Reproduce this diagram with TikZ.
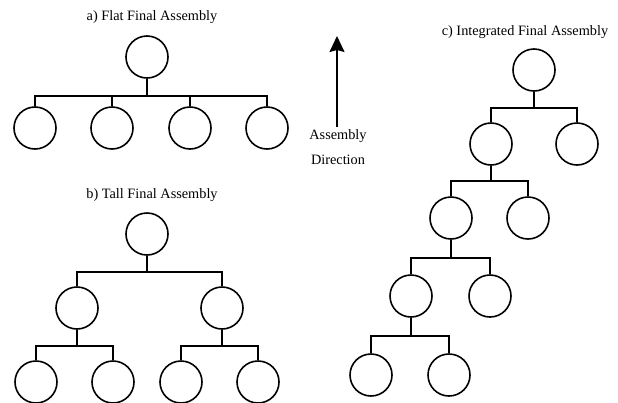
\documentclass[tikz,border=0pt]{standalone}
\usepackage{fontspec}
\setmainfont{Liberation Serif}
\usetikzlibrary{arrows.meta,positioning}

\tikzset{
  part/.style={draw,circle,minimum size=42pt,inner sep=0pt,line width=1.6pt},
  link/.style={line width=1.6pt},
  lbl/.style={font=\fontsize{14.3}{25}\selectfont}
}

\begin{document}
\begin{tikzpicture}[x=1pt,y=1pt,>={Stealth[length=16pt,width=15pt,inset=2pt]}]
\useasboundingbox (0,0) rectangle (618,-402);
% a) flat
\node[lbl] (ta) at (152,-17) {a) Flat Final Assembly};
\node[part] (a0) at (147,-57) {};
\foreach \i/\x in {1/35,2/112,3/190,4/267}
  \node[part] (a\i) at (\x,-128) {};
\foreach \i in {1,...,4}
  \draw[link] (a0.south) -- ++(0,-17) -| (a\i.north);
% b) tall
\node[lbl] (tb) at (152,-195) {b) Tall Final Assembly};
\node[part] (b0) at (147,-234) {};
\node[part] (b1) at (77,-308) {};
\node[part] (b2) at (222,-308) {};
\node[part] (b11) at (36,-382) {};
\node[part] (b12) at (113,-382) {};
\node[part] (b21) at (181,-382) {};
\node[part] (b22) at (258,-382) {};
\foreach \p/\c in {b0/b1,b0/b2,b1/b11,b1/b12,b2/b21,b2/b22}
  \draw[link] (\p.south) -- ++(0,-16) -| (\c.north);
% direction
\node[lbl,align=center,inner sep=2pt] (dir) at (338,-147) {Assembly\\Direction};
\coordinate (up) at (337,-36);
\draw[->,line width=1.6pt] (dir.north -| up) -- (up);
% c) integrated
\node[lbl] (tc) at (525,-32) {c) Integrated Final Assembly};
\node[part] (c0) at (534,-70) {};
\node[part] (c1) at (491,-144) {};
\node[part] (c1r) at (577,-144) {};
\node[part] (c2) at (451,-218) {};
\node[part] (c2r) at (528,-218) {};
\node[part] (c3) at (411,-296) {};
\node[part] (c3r) at (490,-296) {};
\node[part] (c4) at (371,-375) {};
\node[part] (c4r) at (449,-375) {};
\foreach \p/\c/\d in {c0/c1/16,c0/c1r/16,c1/c2/15,c1/c2r/15,c2/c3/18,c2/c3r/18,c3/c4/18,c3/c4r/18}
  \draw[link] (\p.south) -- ++(0,-\d) -| (\c.north);
\end{tikzpicture}
\end{document}
